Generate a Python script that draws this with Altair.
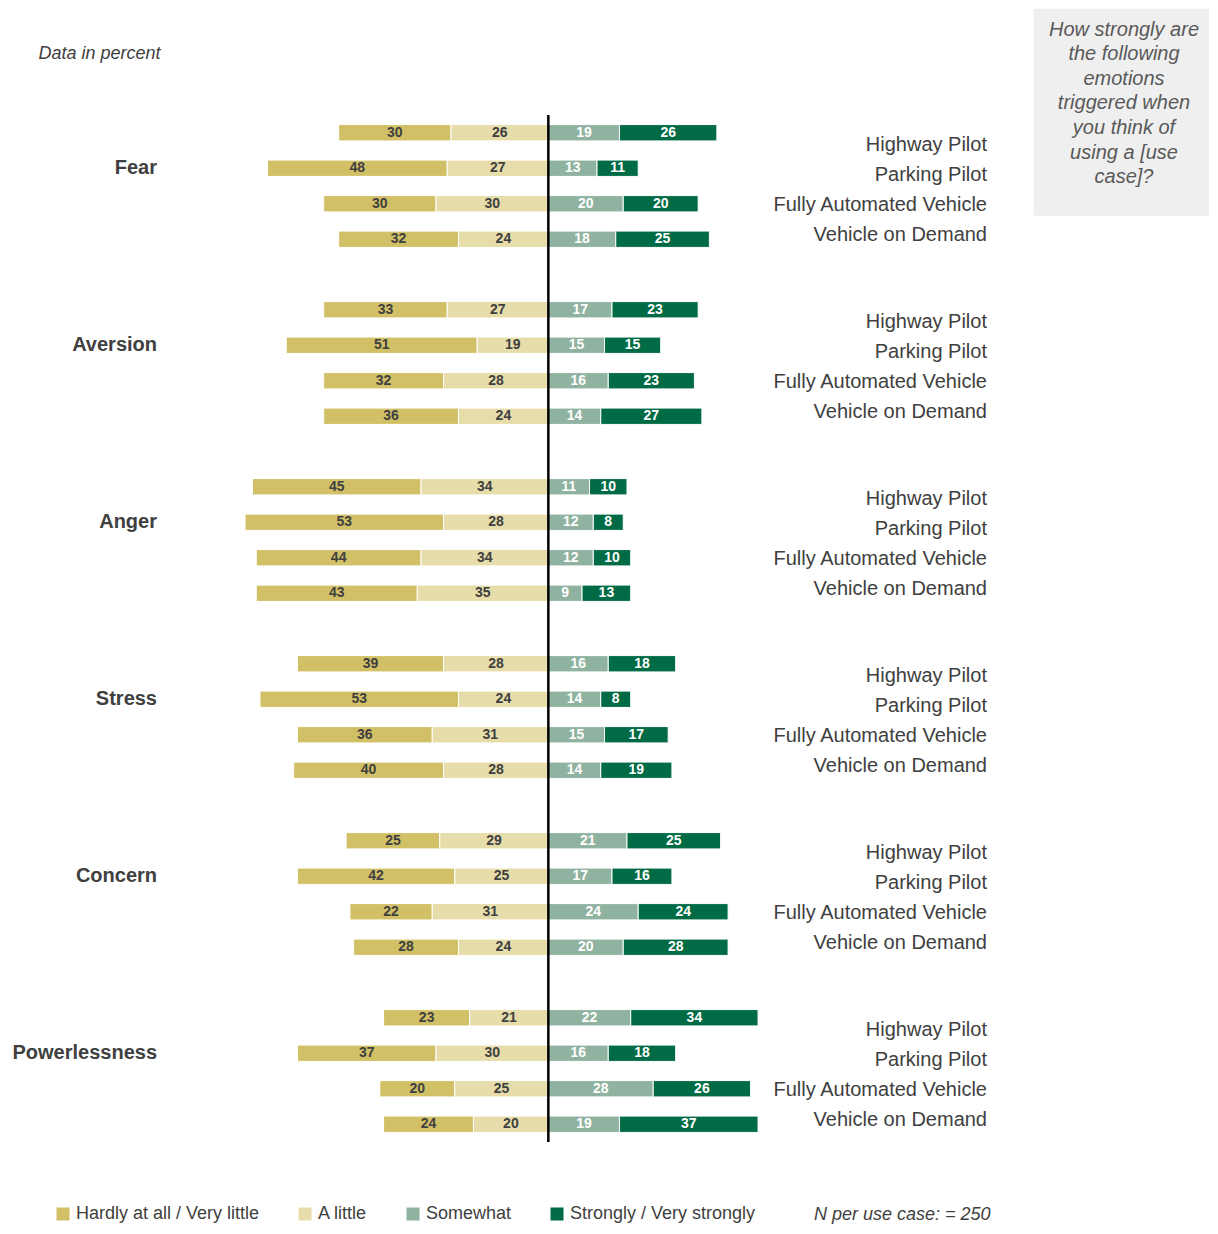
import altair as alt
import pandas as pd

# ---------------- data ----------------
emotions = ["Fear", "Aversion", "Anger", "Stress", "Concern", "Powerlessness"]
use_cases = ["Highway Pilot", "Parking Pilot", "Fully Automated Vehicle", "Vehicle on Demand"]
categories = ["Hardly at all / Very little", "A little", "Somewhat", "Strongly / Very strongly"]

# values ordered emotion by emotion, each with the four use cases
hardly = [30, 48, 30, 32, 33, 51, 32, 36, 45, 53, 44, 43,
          39, 53, 36, 40, 25, 42, 22, 28, 23, 37, 20, 24]
a_little = [26, 27, 30, 24, 27, 19, 28, 24, 34, 28, 34, 35,
            28, 24, 31, 28, 29, 25, 31, 24, 21, 30, 25, 20]
somewhat = [19, 13, 20, 18, 17, 15, 16, 14, 11, 12, 12, 9,
            16, 14, 15, 14, 21, 17, 24, 20, 22, 16, 28, 19]
strongly = [26, 11, 20, 25, 23, 15, 23, 27, 10, 8, 10, 13,
            18, 8, 17, 19, 25, 16, 24, 28, 34, 18, 26, 37]

question = ["How strongly are", "the following", "emotions", "triggered when",
            "you think of", "using a [use", "case]?"]
note_top = "Data in percent"
note_bottom = "N per use case: = 250"

# ---------------- table ----------------
rows = []
i = 0
for e in emotions:
    for u in use_cases:
        h, a, s, st = hardly[i], a_little[i], somewhat[i], strongly[i]
        segs = [(categories[0], -(h + a), -a, h),
                (categories[1], -a, 0, a),
                (categories[2], 0, s, s),
                (categories[3], s, s + st, st)]
        for c, x0, x1, v in segs:
            rows.append(dict(emotion=e, usecase=u, category=c,
                             start=x0, end=x1, mid=(x0 + x1) / 2, value=v))
        i += 1
df = pd.DataFrame(rows)

# ---------------- style ----------------
colors = ["#d2c066", "#e6ddaa", "#8fb3a0", "#006b45"]
TXT = "#404040"
FONT = "Liberation Sans, Arial, sans-serif"
W, H, GAP = 831, 142, 35

xscale = alt.Scale(domain=[-104.5, 117.4], nice=False, zero=False)
band = alt.Scale(domain=use_cases, paddingInner=0.54, paddingOuter=0.27)
point = alt.Scale(type="point", domain=use_cases, padding=0.86)

first_row = ((alt.datum.category == categories[0]) & (alt.datum.usecase == use_cases[0]))

bars = alt.Chart().mark_bar(stroke="white", strokeWidth=1).encode(
    x=alt.X("start:Q", scale=xscale, axis=None),
    x2="end:Q",
    y=alt.Y("usecase:N", scale=band, axis=None),
    color=alt.Color(
        "category:N",
        scale=alt.Scale(domain=categories, range=colors),
        legend=alt.Legend(
            title=None, orient="none", direction="horizontal",
            legendX=-103, legendY=1090, symbolType="square", symbolSize=169,
            symbolStrokeWidth=0, labelFontSize=18, labelColor=TXT,
            labelFont=FONT, columnPadding=36, labelOffset=4, labelLimit=400,
        ),
    ),
)

bar_labels = alt.Chart().mark_text(fontSize=14, fontWeight="bold", font=FONT).encode(
    x=alt.X("mid:Q", scale=xscale, axis=None),
    y=alt.Y("usecase:N", scale=band, axis=None),
    text="value:Q",
    color=alt.condition(
        alt.FieldOneOfPredicate(field="category", oneOf=categories[2:]),
        alt.value("white"), alt.value(TXT)),
)

rule_mid = alt.Chart().transform_filter(
    first_row & (alt.datum.emotion != emotions[-1])
).mark_rule(color="black", strokeWidth=2.5).encode(
    x=alt.datum(0), y=alt.value(0), y2=alt.value(H + GAP))

rule_last = alt.Chart().transform_filter(
    first_row & (alt.datum.emotion == emotions[-1])
).mark_rule(color="black", strokeWidth=2.5).encode(
    x=alt.datum(0), y=alt.value(0), y2=alt.value(H))

uc_labels = alt.Chart().transform_filter(
    alt.datum.category == categories[0]
).mark_text(align="right", baseline="middle", fontSize=20, color=TXT, dy=4, font=FONT).encode(
    x=alt.value(W - 1),
    y=alt.Y("usecase:N", scale=point, axis=None),
    text="usecase:N",
)

emo_labels = alt.Chart().transform_filter(
    (alt.datum.category == categories[0]) & (alt.datum.usecase == use_cases[1])
).mark_text(align="right", baseline="middle", fontSize=20, fontWeight="bold",
            color=TXT, font=FONT).encode(
    x=alt.value(0),
    y=alt.Y("usecase:N", scale=band, axis=None),
    text="emotion:N",
)

box = alt.Chart().transform_filter(
    first_row & (alt.datum.emotion == emotions[0])
).mark_rect(color="#efefef").encode(
    x=alt.value(876.5), x2=alt.value(1052), y=alt.value(-106.3), y2=alt.value(100.7))

qtext = alt.Chart().transform_filter(
    first_row & (alt.datum.emotion == emotions[0])
).mark_text(text=question, align="center", baseline="middle", fontSize=20,
            fontStyle="italic", lineHeight=24.6, color="#595959", font=FONT).encode(
    x=alt.value(967), y=alt.value(-85.3))

top_note = alt.Chart().transform_filter(
    first_row & (alt.datum.emotion == emotions[0])
).mark_text(text=note_top, align="left", baseline="middle", fontSize=18,
            fontStyle="italic", color=TXT, font=FONT).encode(
    x=alt.value(-118.5), y=alt.value(-61.3))

foot = alt.Chart().transform_filter(
    first_row & (alt.datum.emotion == emotions[-1])
).mark_text(text=note_bottom, align="right", baseline="middle", fontSize=18,
            fontStyle="italic", color=TXT, font=FONT).encode(
    x=alt.value(833.5), y=alt.value(215))

layered = alt.layer(
    box, qtext, top_note, bars, bar_labels, rule_mid, rule_last,
    uc_labels, emo_labels, foot, data=df
).properties(width=W, height=H).resolve_scale(y="independent")

chart = layered.facet(
    row=alt.Row("emotion:N", sort=emotions, header=None),
    spacing=GAP,
    bounds="flush",
).properties(
    padding={"left": 4, "top": 0, "right": 0, "bottom": 0}
).configure(font=FONT).configure_view(stroke="transparent", strokeWidth=0)

chart.save("out.html", embed_options={"renderer": "svg", "actions": False})
